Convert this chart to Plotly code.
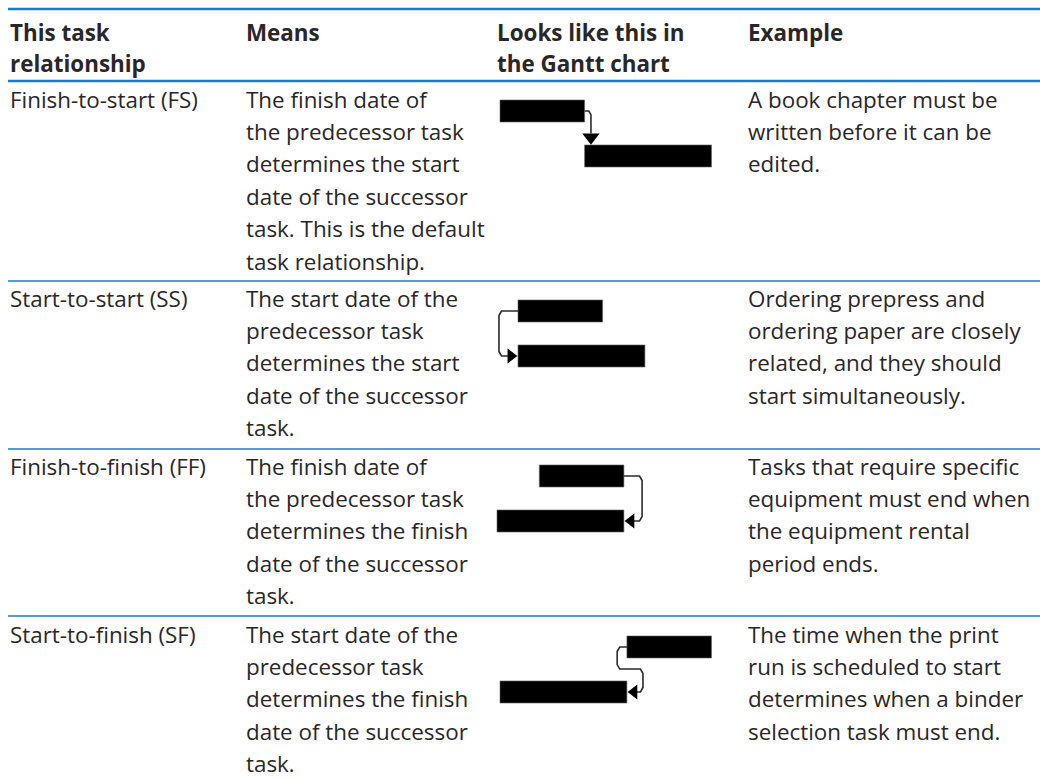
import plotly.graph_objects as go

W, H = 1040, 779

# ---------------- data ----------------
headers = [["This task", "relationship"], ["Means"], ["Looks like this in", "the Gantt chart"], ["Example"]]
relationships = ["Finish-to-start (FS)", "Start-to-start (SS)", "Finish-to-finish (FF)", "Start-to-finish (SF)"]
means = [
    ["The finish date of", "the predecessor task", "determines the start", "date of the successor",
     "task. This is the default", "task relationship."],
    ["The start date of the", "predecessor task", "determines the start", "date of the successor", "task."],
    ["The finish date of", "the predecessor task", "determines the finish", "date of the successor", "task."],
    ["The start date of the", "predecessor task", "determines the finish", "date of the successor", "task."],
]
examples = [
    ["A book chapter must be", "written before it can be", "edited."],
    ["Ordering prepress and", "ordering paper are closely", "related, and they should", "start simultaneously."],
    ["Tasks that require specific", "equipment must end when", "the equipment rental", "period ends."],
    ["The time when the print", "run is scheduled to start", "determines when a binder", "selection task must end."],
]
link_types = ["FS", "SS", "FF", "SF"]
# Gantt tasks in days
pred_start = [0, 0, 1, 3]
pred_dur = [2, 2, 2, 2]
succ_start = [2, 0, 0, 0]
succ_dur = [3, 3, 3, 3]

# ---------------- layout constants ----------------
FONT = "Open Sans"
FSIZE = 22.4
TXT = "#2a2627"
BLUE = "#1f7bc1"
COL_X = [8, 244, 495, 746]
HEAD_Y = [32, 63]
ROW_FIRST = [99, 298, 466, 634]
LINE_H = 32.4
SEPS = [(9, 2.5), (81, 2.5), (281, 1.5), (449, 1.5), (616, 1.5)]
PX_PER_DAY = 42.3
ORIGIN_PX = [500, 518, 497, 500]
DIAG_TOP = [88.5, 288.5, 453.5, 624.5]
DIAG_X = (490, 722)
ROW_PX = 45.0

fig = go.Figure()
annotations = []

def add_text(x, y, s, bold=False):
    annotations.append(dict(
        x=x, y=y, xref="x", yref="y", text=("<b>%s</b>" % s) if bold else s,
        showarrow=False, xanchor="left", yanchor="middle",
        font=dict(family=FONT, size=FSIZE, color=TXT)))

for c, lines in enumerate(headers):
    for i, s in enumerate(lines):
        add_text(COL_X[c], HEAD_Y[i], s, bold=True)

for r in range(4):
    y0 = ROW_FIRST[r]
    add_text(COL_X[0], y0, relationships[r])
    for i, s in enumerate(means[r]):
        add_text(COL_X[1], y0 + i * LINE_H, s)
    for i, s in enumerate(examples[r]):
        add_text(COL_X[3], y0 + i * LINE_H, s)

shapes = []
for y, w in SEPS:
    shapes.append(dict(type="line", xref="x", yref="y", x0=8, x1=W, y0=y, y1=y,
                       line=dict(color=BLUE, width=w)))

# invisible base trace for main axes
fig.add_trace(go.Scatter(x=[0, W], y=[0, H], mode="markers", marker=dict(opacity=0),
                         hoverinfo="skip", showlegend=False))

LINE_C = "#2b2b2b"
for k in range(4):
    xa = "x%d" % (k + 2)
    ya = "y%d" % (k + 2)
    ps, pe = pred_start[k], pred_start[k] + pred_dur[k]
    ss, se = succ_start[k], succ_start[k] + succ_dur[k]
    fig.add_trace(go.Bar(
        orientation="h", y=[0, 1], base=[ps, ss], x=[pred_dur[k], succ_dur[k]],
        width=0.49, marker=dict(color="black", line=dict(color="#666", width=0.6)),
        xaxis=xa, yaxis=ya, showlegend=False, hoverinfo="skip"))
    t = link_types[k]
    ah = 0.17  # arrow half-length offset in days
    if t == "FS":
        vx = ss + 0.15
        px = [pe, vx - 0.05, vx, vx]
        py = [0, 0, 0.08, 0.5]
        ax, ay, sym, size = vx, 0.755 - 0.17, "triangle-down", 15
    elif t == "SS":
        vx = ps - 0.45
        px = [ps, vx + 0.06, vx, vx, vx + 0.06, ss - 0.2]
        py = [0, 0, 0.1, 0.9, 1, 1]
        ax, ay, sym, size = ss - ah, 1, "triangle-right", 13
    elif t == "FF":
        vx = pe + 0.43
        px = [pe, vx - 0.06, vx, vx, vx - 0.06, se + 0.2]
        py = [0, 0, 0.1, 0.9, 1, 1]
        ax, ay, sym, size = se + ah, 1, "triangle-left", 13
    else:  # SF
        vx1 = ps - 0.23
        vx2 = se + 0.38
        px = [ps, vx1 + 0.06, vx1, vx1, vx1 + 0.06, vx2 - 0.06, vx2, vx2, vx2 - 0.06, se + 0.2]
        py = [0, 0, 0.1, 0.39, 0.49, 0.49, 0.59, 0.9, 1, 1]
        ax, ay, sym, size = se + ah, 1, "triangle-left", 13
    fig.add_trace(go.Scatter(x=px, y=py, mode="lines", line=dict(color=LINE_C, width=1.6),
                             xaxis=xa, yaxis=ya, showlegend=False, hoverinfo="skip"))
    fig.add_trace(go.Scatter(x=[ax], y=[ay], mode="markers",
                             marker=dict(symbol=sym, size=size, color="black", line=dict(width=0)),
                             xaxis=xa, yaxis=ya, showlegend=False, hoverinfo="skip"))
    o = ORIGIN_PX[k]
    xr = [(DIAG_X[0] - o) / PX_PER_DAY, (DIAG_X[1] - o) / PX_PER_DAY]
    top = DIAG_TOP[k]
    bot = top + 2 * ROW_PX
    fig.layout["xaxis%d" % (k + 2)] = dict(domain=[DIAG_X[0] / W, DIAG_X[1] / W], range=xr,
                                           visible=False, anchor=ya, fixedrange=True)
    fig.layout["yaxis%d" % (k + 2)] = dict(domain=[1 - bot / H, 1 - top / H], range=[1.5, -0.5],
                                           visible=False, anchor=xa, fixedrange=True)

fig.update_layout(
    width=W, height=H, margin=dict(l=0, r=0, t=0, b=0),
    paper_bgcolor="white", plot_bgcolor="white",
    xaxis=dict(range=[0, W], visible=False, domain=[0, 1], fixedrange=True),
    yaxis=dict(range=[H, 0], visible=False, domain=[0, 1], fixedrange=True),
    annotations=annotations, shapes=shapes, showlegend=False,
)
fig.write_html("out.html", config={"displayModeBar": False},
               post_script="document.body.style.margin='0';document.body.style.overflow='hidden';")
